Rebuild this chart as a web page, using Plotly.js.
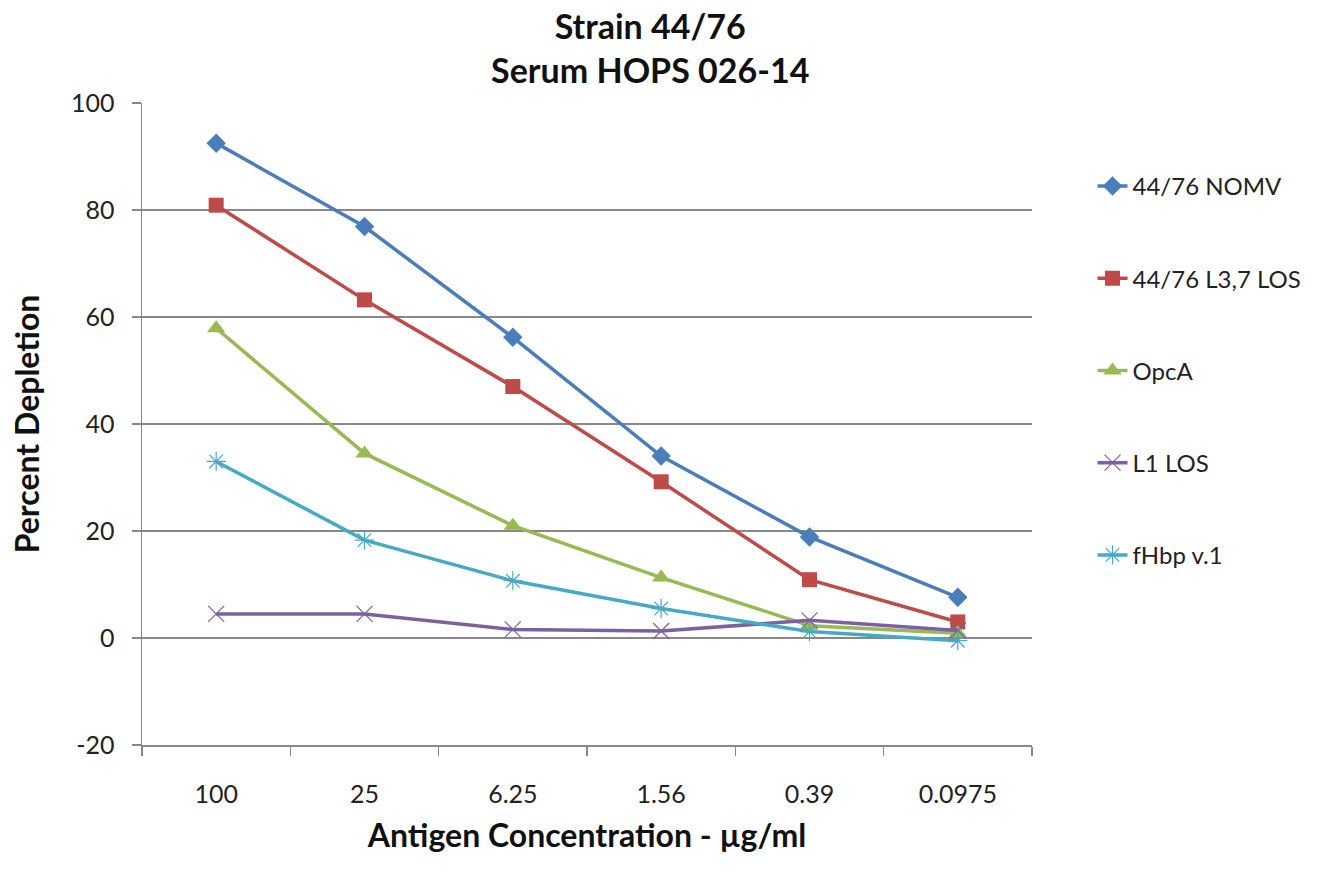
<!DOCTYPE html>
<html>
<head>
<meta charset="utf-8">
<script src="https://cdn.plot.ly/plotly-3.0.1.min.js"></script>
<style>html,body{margin:0;padding:0;background:#fff;}#chart{width:1327px;height:871px;}</style>
</head>
<body>
<div id="chart"></div>
<script>
const categories = ["100", "25", "6.25", "1.56", "0.39", "0.0975"];
const seriesNames = ["44/76 NOMV", "44/76 L3,7 LOS", "OpcA", "L1 LOS", "fHbp v.1"];
const nomv = [92.5, 76.9, 56.2, 34.0, 18.9, 7.6];
const l37los = [80.9, 63.2, 47.0, 29.2, 10.9, 3.0];
const opcA = [57.9, 34.5, 21.0, 11.3, 2.3, 0.9];
const l1los = [4.5, 4.5, 1.6, 1.3, 3.3, 1.4];
const fhbp = [33.0, 18.3, 10.7, 5.5, 1.2, -0.5];
const values = [nomv, l37los, opcA, l1los, fhbp];
const yTickVals = [-20, 0, 20, 40, 60, 80, 100];
const yTickText = ["-20", "0", "20", "40", "60", "80", "100"];

const colors = ["#4A7EBB", "#BE4B48", "#98B954", "#7D60A0", "#46AAC5"];
const markers = [
  {symbol: "diamond", size: 15},
  {symbol: "square", size: 15},
  {symbol: "triangle-up", size: 16},
  {symbol: "x-thin-open", size: 16},
  {symbol: "asterisk-open", size: 16}
];

const traces = values.map((v, i) => ({
  type: "scatter",
  mode: "lines+markers",
  name: seriesNames[i],
  legendgroup: "g" + i,
  x: categories,
  y: v,
  line: {color: colors[i], width: 3.5},
  marker: Object.assign({color: colors[i], line: {color: colors[i], width: (i >= 3 ? 1.2 : 0)}}, markers[i])
}));

const font = "Lato, 'Open Sans', 'Liberation Sans', sans-serif";

const layout = {
  width: 1327, height: 871,
  margin: {l: 142, r: 295, t: 103, b: 126},
  paper_bgcolor: "#fff", plot_bgcolor: "#fff",
  font: {family: font, color: "#222", size: 24},
  title: {
    text: "<b>Strain 44/76<br>Serum HOPS 026-14</b>",
    font: {family: font, size: 34, color: "#111"},
    x: 0.49, xanchor: "center", y: 0.955, yanchor: "middle"
  },
  xaxis: {
    type: "category",
    tickson: "boundaries",
    ticks: "outside", ticklen: 9, tickcolor: "#888", tickwidth: 1.5,
    showline: true, linecolor: "#888", linewidth: 1.5,
    showgrid: false, zeroline: false,
    ticklabelstandoff: 26,
    tickfont: {family: font, size: 25, color: "#222"},
    title: {text: "<b>Antigen Concentration - µg/ml</b>", font: {family: font, size: 32, color: "#111"}, standoff: 18},
    range: [-0.5, 5.5]
  },
  yaxis: {
    range: [-20, 100],
    tickmode: "array", tickvals: yTickVals, ticktext: yTickText,
    ticks: "outside", ticklen: 9, tickcolor: "#888", tickwidth: 1.5,
    showline: true, linecolor: "#888", linewidth: 1.5,
    showgrid: true, gridcolor: "#888", gridwidth: 1.2,
    zeroline: false,
    ticklabelstandoff: 12,
    tickfont: {family: font, size: 25, color: "#222"},
    title: {text: "<b>Percent Depletion</b>", font: {family: font, size: 32, color: "#111"}, standoff: 22}
  },
  legend: {
    x: 1.068, xanchor: "left", y: 0.905, yanchor: "top",
    font: {family: font, size: 24, color: "#222"},
    tracegroupgap: 58,
    bgcolor: "rgba(0,0,0,0)"
  },
  showlegend: true
};

Plotly.newPlot("chart", traces, layout, {displayModeBar: false, staticPlot: true});
</script>
</body>
</html>
